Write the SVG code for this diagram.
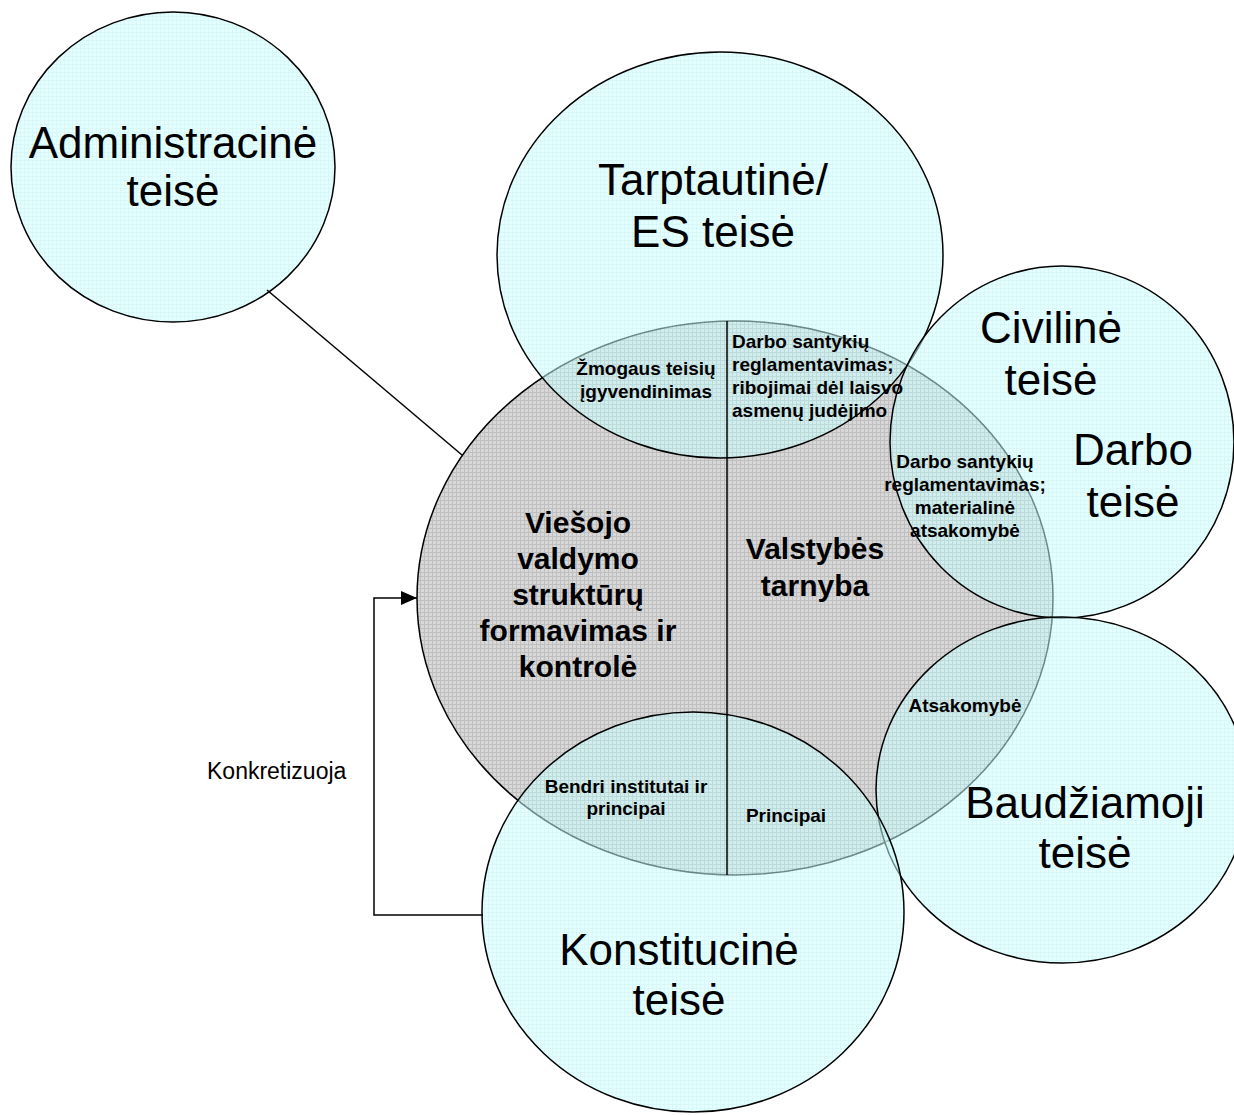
<svg xmlns="http://www.w3.org/2000/svg" width="1234" height="1115" viewBox="0 0 1234 1115">
  <defs>
    <!-- fine grey grid fill for the central field -->
    <pattern id="greyGrid" width="4" height="4" patternUnits="userSpaceOnUse">
      <rect width="4" height="4" fill="#d8d8d8"/>
      <path d="M0 0.5H4M0.5 0V4" stroke="#bfbfbf" stroke-width="1"/>
    </pattern>
    <!-- faint cyan grid fill for the law branches -->
    <pattern id="cyanGrid" width="4" height="4" patternUnits="userSpaceOnUse">
      <rect width="4" height="4" fill="#ccffff"/>
      <path d="M0 0.5H4M0.5 0V4" stroke="#b9f0f0" stroke-width="1"/>
    </pattern>
    <marker id="arrow" viewBox="0 0 16 14" refX="16" refY="7" markerWidth="16" markerHeight="14" markerUnits="userSpaceOnUse" orient="auto">
      <path d="M0 0L16 7L0 14Z" fill="#000"/>
    </marker>
  </defs>
  <style>
    .field { fill: url(#greyGrid); stroke: #000; stroke-width: 1.5; }
    .branch { fill: url(#cyanGrid); fill-opacity: 0.55; stroke: #000; stroke-width: 1.5; }
    .big { font-family: "Liberation Sans", Arial, sans-serif; font-size: 44px; fill: #000; text-anchor: middle; }
    .core { font-family: "Liberation Sans", Arial, sans-serif; font-size: 30px; font-weight: bold; fill: #000; text-anchor: middle; }
    .note { font-family: "Liberation Sans", Arial, sans-serif; font-size: 19px; font-weight: bold; fill: #000; text-anchor: middle; }
    .note-left { text-anchor: start; }
    .plain { font-family: "Liberation Sans", Arial, sans-serif; font-size: 23px; fill: #000; }
    .line { fill: none; stroke: #000; stroke-width: 1.5; }
  </style>

  <!-- central field: public administration / civil service -->
  <g id="civil-service">
    <ellipse class="field" cx="735" cy="598" rx="318" ry="277"/>
  </g>

  <g id="administrative-law">
    <ellipse class="branch" cx="173" cy="167" rx="162" ry="155"/>
    <text class="big" x="173" y="158">Administracinė</text>
    <text class="big" x="173" y="206">teisė</text>
  </g>

  <g id="international-law">
    <ellipse class="branch" cx="720" cy="255" rx="223" ry="203"/>
    <text class="big" x="713" y="195">Tarptautinė/</text>
    <text class="big" x="713" y="247">ES teisė</text>
  </g>

  <g id="civil-labour-law">
    <ellipse class="branch" cx="1062" cy="442" rx="172" ry="176"/>
    <text class="big" x="1051" y="343">Civilinė</text>
    <text class="big" x="1051" y="395">teisė</text>
    <text class="big" x="1133" y="465">Darbo</text>
    <text class="big" x="1133" y="517">teisė</text>
  </g>

  <g id="criminal-law">
    <ellipse class="branch" cx="1062" cy="790" rx="186" ry="173"/>
    <text class="big" x="1085" y="818">Baudžiamoji</text>
    <text class="big" x="1085" y="868">teisė</text>
  </g>

  <g id="constitutional-law">
    <ellipse class="branch" cx="693" cy="912" rx="211" ry="200"/>
    <text class="big" x="679" y="965">Konstitucinė</text>
    <text class="big" x="679" y="1015">teisė</text>
  </g>

  <!-- divider and labels of the central field -->
  <g id="civil-service-labels">
    <line class="line" x1="727" y1="321" x2="727" y2="875"/>
    <text class="core" x="578" y="533">Viešojo</text>
    <text class="core" x="578" y="569">valdymo</text>
    <text class="core" x="578" y="605">struktūrų</text>
    <text class="core" x="578" y="641">formavimas ir</text>
    <text class="core" x="578" y="677">kontrolė</text>
    <text class="core" x="815" y="559">Valstybės</text>
    <text class="core" x="815" y="596">tarnyba</text>
  </g>

  <!-- overlap labels -->
  <g id="overlap-labels">
    <text class="note" x="646" y="375">Žmogaus teisių</text>
    <text class="note" x="646" y="398">įgyvendinimas</text>
    <text class="note note-left" x="732" y="348">Darbo santykių</text>
    <text class="note note-left" x="732" y="371">reglamentavimas;</text>
    <text class="note note-left" x="732" y="394">ribojimai dėl laisvo</text>
    <text class="note note-left" x="732" y="417">asmenų judėjimo</text>
    <text class="note" x="965" y="468">Darbo santykių</text>
    <text class="note" x="965" y="491">reglamentavimas;</text>
    <text class="note" x="965" y="514">materialinė</text>
    <text class="note" x="965" y="537">atsakomybė</text>
    <text class="note" x="965" y="712">Atsakomybė</text>
    <text class="note" x="626" y="793">Bendri institutai ir</text>
    <text class="note" x="626" y="815">principai</text>
    <text class="note" x="786" y="822">Principai</text>
  </g>

  <!-- connectors -->
  <g id="connectors">
    <line class="line" x1="267" y1="290" x2="462" y2="455"/>
    <path class="line" d="M483 915H374V598H417" marker-end="url(#arrow)"/>
    <text class="plain" x="207" y="779">Konkretizuoja</text>
  </g>
</svg>
